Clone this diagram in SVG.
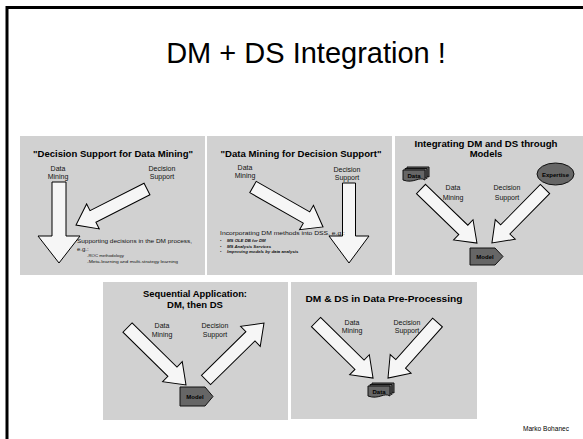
<svg xmlns="http://www.w3.org/2000/svg" width="583" height="439" viewBox="0 0 583 439">
<style>
.panel{fill:#d1d1d1}
.arrow{fill:#f6f6f6;stroke:#000;stroke-width:1;stroke-linejoin:miter}
.dark{fill:#666;stroke:#111;stroke-width:1}
.t{font-family:"Liberation Sans",Arial,sans-serif;fill:#000}
.ttl{font-family:"Liberation Sans",Arial,sans-serif;font-weight:bold;font-size:9.5px;text-anchor:middle;fill:#000}
.lbl{font-family:"Liberation Sans",Arial,sans-serif;font-size:7px;text-anchor:middle;fill:#111}
.body{font-family:"Liberation Sans",Arial,sans-serif;font-size:6px;fill:#111}
.sm{font-family:"Liberation Sans",Arial,sans-serif;font-size:4.3px;fill:#111}
.smb{font-family:"Liberation Sans",Arial,sans-serif;font-size:4.3px;font-weight:bold;font-style:italic;fill:#111}
.nl{font-family:"Liberation Sans",Arial,sans-serif;font-size:6px;font-weight:bold;text-anchor:middle;fill:#000}
</style>
<defs>
<g id="docstack">
<path class="dark" d="M4,-3 H26 V7 C20,3 15,11 4,7 Z"/>
<path class="dark" d="M2,-1.5 H24 V8.5 C18,4.5 13,12.5 2,8.5 Z"/>
<path class="dark" d="M0,0 H22 V10 C16,6 11,14 0,10 Z"/>
</g>
</defs>
<rect width="583" height="439" fill="#fff"/>
<path d="M7,439 V7.5 H583" fill="none" stroke="#000" stroke-width="3"/>
<text class="t" x="306" y="63" font-size="29" text-anchor="middle">DM + DS Integration !</text>
<text class="t" x="546" y="431" font-size="6.5" fill="#444" text-anchor="middle" textLength="46" lengthAdjust="spacingAndGlyphs">Marko Bohanec</text>

<g id="panels">
<rect class="panel" x="20" y="136" width="185" height="139"/>
<rect class="panel" x="207" y="136" width="185" height="139"/>
<rect class="panel" x="395" y="136" width="188" height="139"/>
<rect class="panel" x="103" y="282" width="185" height="138"/>
<rect class="panel" x="291" y="282" width="186" height="137"/>
</g>

<g id="connectors">
<path class="arrow" transform="translate(59,182) rotate(90)" d="M0,-7 H54 V-21 L81,0 L54,21 V7 H0 Z"/>
<path class="arrow" transform="translate(147,189) rotate(153.1)" d="M0,-6.5 H60.6 V-14 L79.6,0 L60.6,14 V6.5 H0 Z"/>
<path class="arrow" transform="translate(349,183) rotate(90)" d="M0,-6.5 H53 V-20 L80,0 L53,20 V6.5 H0 Z"/>
<path class="arrow" transform="translate(253,187) rotate(29.7)" d="M0,-6.5 H61.6 V-14 L80.6,0 L61.6,14 V6.5 H0 Z"/>
<path class="arrow" transform="translate(421,189) rotate(44)" d="M0,-6.5 H58.8 V-14 L77.8,0 L58.8,14 V6.5 H0 Z"/>
<path class="arrow" transform="translate(545,189) rotate(134.5)" d="M0,-6.5 H56.7 V-14 L75.7,0 L56.7,14 V6.5 H0 Z"/>
<path class="arrow" transform="translate(127.5,327.5) rotate(44.5)" d="M0,-6.5 H63 V-14 L82,0 L63,14 V6.5 H0 Z"/>
<path class="arrow" transform="translate(206,380) rotate(-44.5)" d="M0,-6.5 H62.3 V-14 L81.3,0 L62.3,14 V6.5 H0 Z"/>
<path class="arrow" transform="translate(316,322) rotate(44.5)" d="M0,-6.5 H61 V-14 L80,0 L61,14 V6.5 H0 Z"/>
<path class="arrow" transform="translate(437.5,322.5) rotate(131.7)" d="M0,-6.5 H55.4 V-14 L74.4,0 L55.4,14 V6.5 H0 Z"/>
</g>

<g id="panel1">
<text class="ttl" x="113" y="157" textLength="160" lengthAdjust="spacingAndGlyphs">"Decision Support for Data Mining"</text>
<text class="lbl" x="58" y="171">Data</text>
<text class="lbl" x="58" y="179">Mining</text>
<text class="lbl" x="162" y="171">Decision</text>
<text class="lbl" x="162" y="179">Support</text>
<text class="body" x="77" y="243" textLength="115" lengthAdjust="spacingAndGlyphs">Supporting decisions in the DM process,</text>
<text class="body" x="77" y="251">e.g.:</text>
<text class="sm" x="87" y="257">-ROC methodology</text>
<text class="sm" x="87" y="263" textLength="91" lengthAdjust="spacingAndGlyphs">-Meta-learning and multi-strategy learning</text>
</g>

<g id="panel2">
<text class="ttl" x="301" y="157" textLength="161" lengthAdjust="spacingAndGlyphs">"Data Mining for Decision Support"</text>
<text class="lbl" x="245" y="170">Data</text>
<text class="lbl" x="245" y="178">Mining</text>
<text class="lbl" x="347" y="172">Decision</text>
<text class="lbl" x="347" y="180">Support</text>
<text class="body" x="220" y="235" textLength="125" lengthAdjust="spacingAndGlyphs">Incorporating DM methods into DSS, e.g.:</text>
<text class="sm" x="220" y="242">•</text>
<text class="smb" x="227" y="242">MS OLE DB for DM</text>
<text class="sm" x="220" y="247.5">•</text>
<text class="smb" x="227" y="247.5">MS Analysis Services</text>
<text class="sm" x="220" y="253">•</text>
<text class="smb" x="227" y="253">Improving models by data analysis</text>
</g>

<g id="panel3">
<text class="ttl" x="486" y="147" textLength="143" lengthAdjust="spacingAndGlyphs">Integrating DM and DS through</text>
<text class="ttl" x="486" y="157">Models</text>
<text class="lbl" x="453" y="190">Data</text>
<text class="lbl" x="453" y="200">Mining</text>
<text class="lbl" x="507" y="190">Decision</text>
<text class="lbl" x="507" y="200">Support</text>
</g>

<g id="node-data3">
<use href="#docstack" transform="translate(403,170)"/>
<text class="nl" x="414" y="178">Data</text>
</g>
<g id="node-expertise">
<ellipse class="dark" cx="555.5" cy="174" rx="18.5" ry="11"/>
<text class="nl" x="555.5" y="176.5" font-size="6.5">Expertise</text>
</g>
<g id="node-model3">
<path class="dark" d="M470,248 H495 L503,256.5 L495,265 H470 Z"/>
<text class="nl" x="485" y="258.5">Model</text>
</g>

<g id="panel4">
<text class="ttl" x="195" y="297" font-size="9" textLength="104" lengthAdjust="spacingAndGlyphs">Sequential Application:</text>
<text class="ttl" x="195" y="307.5" font-size="9">DM, then DS</text>
<text class="lbl" x="162" y="328">Data</text>
<text class="lbl" x="162" y="337">Mining</text>
<text class="lbl" x="215" y="328">Decision</text>
<text class="lbl" x="215" y="337">Support</text>
</g>
<g id="node-model4">
<path class="dark" d="M180,387 H205 L213,396.5 L205,406 H180 Z"/>
<text class="nl" x="195" y="398.5">Model</text>
</g>

<g id="panel5">
<text class="ttl" x="384" y="302" textLength="157" lengthAdjust="spacingAndGlyphs">DM &amp; DS in Data Pre-Processing</text>
<text class="lbl" x="352" y="325">Data</text>
<text class="lbl" x="352" y="333">Mining</text>
<text class="lbl" x="407" y="325">Decision</text>
<text class="lbl" x="407" y="333">Support</text>
</g>
<g id="node-data5">
<use href="#docstack" transform="translate(368,386)"/>
<text class="nl" x="379" y="394">Data</text>
</g>
</svg>
